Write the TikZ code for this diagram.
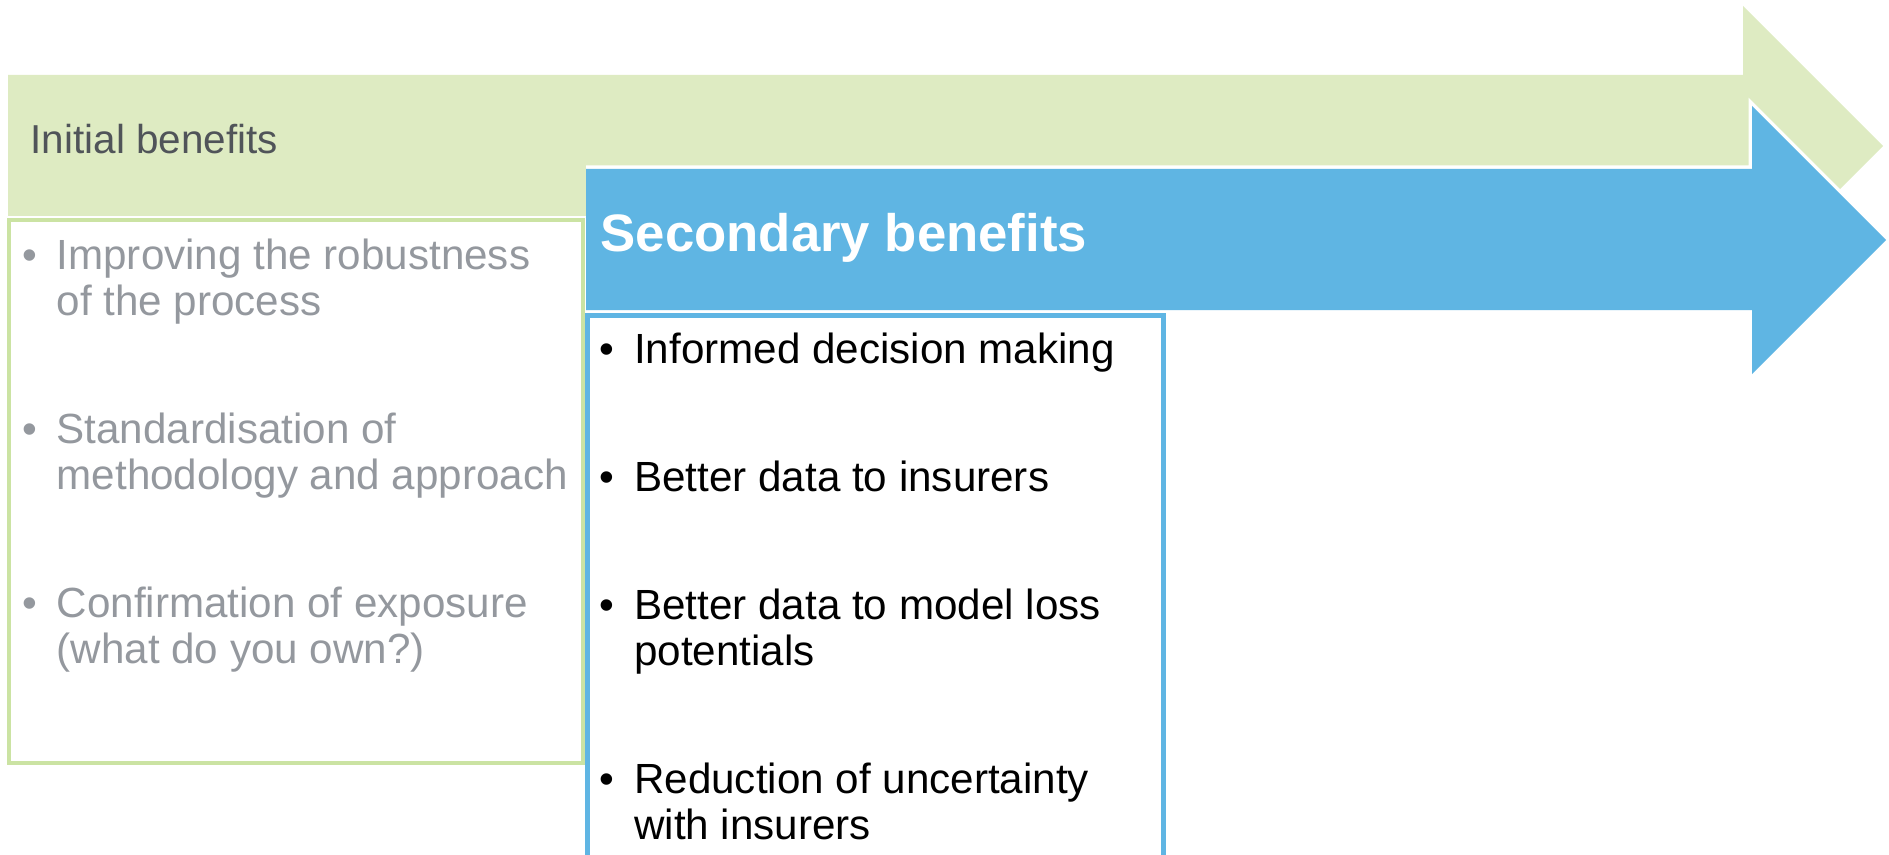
\documentclass[tikz,border=0pt]{standalone}
\usepackage{fontspec}
\setmainfont{Liberation Sans}
\usetikzlibrary{positioning}

\definecolor{initgreen}{RGB}{222,235,194}
\definecolor{initline}{RGB}{203,227,163}
\definecolor{secblue}{RGB}{95,181,227}
\definecolor{itemgray}{RGB}{148,152,158}
\definecolor{headgray}{RGB}{80,84,89}

\newcommand{\bentab}[1]{\begin{tabular}[t]{@{}p{0.345cm}@{}l@{}}#1\end{tabular}}

\begin{document}
\begin{tikzpicture}[every node/.style={inner sep=0pt, anchor=base west},
    headtext/.style={text=headgray, font=\fontsize{11.5}{13}\selectfont},
    sectext/.style={text=white, font=\fontsize{15}{17}\selectfont\bfseries},
    grayitem/.style={text=itemgray, font=\fontsize{12}{13.1}\selectfont},
    blackitem/.style={text=black, font=\fontsize{12}{13.1}\selectfont}]
   \useasboundingbox (0,0) rectangle (18.89,-8.55);
   \clip (0,0) rectangle (18.89,-8.55);

   %initial benefits arrow
   \fill[initgreen] (0.08,-0.75) -- (17.43,-0.75) -- (17.43,-0.06) -- (18.83,-1.46)
      -- (17.43,-2.86) -- (17.43,-2.16) -- (0.08,-2.16) -- cycle;
   \draw[initline, line width=0.045cm] (0.09,-2.20) rectangle (5.83,-7.63);

   %secondary benefits arrow
   \path[fill=secblue, preaction={draw=white, line width=0.07cm}] (5.86,-1.69)
      -- (17.52,-1.69) -- (17.52,-1.06) -- (18.86,-2.40) -- (17.52,-3.74)
      -- (17.52,-3.10) -- (5.86,-3.10);
   \draw[secblue, line width=0.05cm] (5.875,-3.155) rectangle (11.63,-8.80);

   %headings
   \node[headtext] (init) at (0.30,-1.535) {Initial benefits};
   \node[sectext] (sec) at (6.00,-2.515) {Secondary benefits};

   %initial items
   \node[grayitem] (robust) at (0.215,-2.695) {\bentab{\textbullet & Improving the robustness\\ & of the process}};
   \node[grayitem] (standard) at (0.215,-4.43) {\bentab{\textbullet & Standardisation of\\ & methodology and approach}};
   \node[grayitem] (exposure) at (0.215,-6.17) {\bentab{\textbullet & Confirmation of exposure\\ & (what do you own?)}};

   %secondary items
   \node[blackitem] (decision) at (5.99,-3.635) {\bentab{\textbullet & Informed decision making}};
   \node[blackitem] (insurers) at (5.99,-4.915) {\bentab{\textbullet & Better data to insurers}};
   \node[blackitem] (loss) at (5.99,-6.195) {\bentab{\textbullet & Better data to model loss\\ & potentials}};
   \node[blackitem] (uncert) at (5.99,-7.935) {\bentab{\textbullet & Reduction of uncertainty\\ & with insurers}};
\end{tikzpicture}
\end{document}
